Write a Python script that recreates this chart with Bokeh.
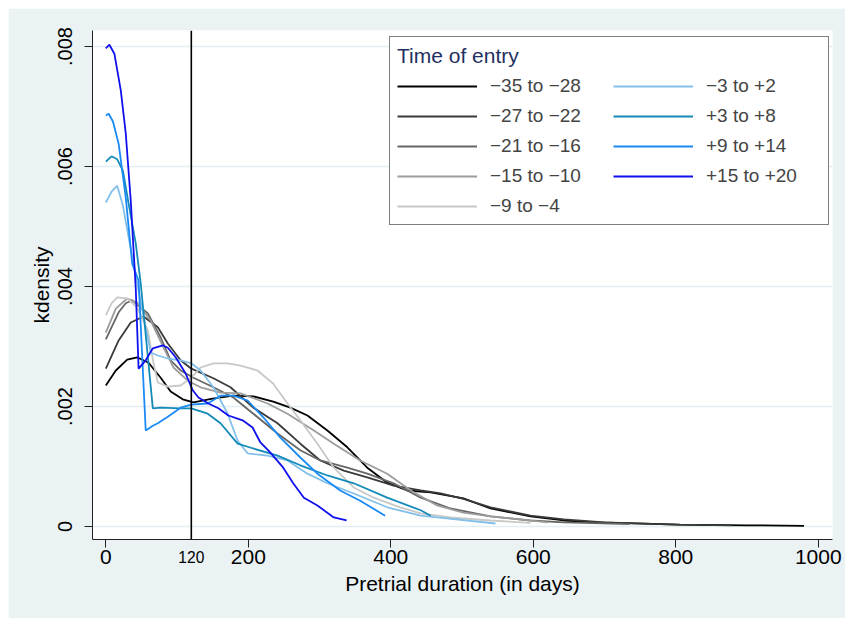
from bokeh.plotting import figure
from bokeh.models import (Range1d, FixedTicker, CustomJSTickFormatter, Span,
                          Legend, LegendItem, LinearAxis)
from bokeh.embed import file_html
from bokeh.resources import INLINE

FONT = "Liberation Sans"

# ---------------- data ----------------
series_labels = ["\u221235 to \u221228", "\u221227 to \u221222", "\u221221 to \u221216",
                 "\u221215 to \u221210", "\u22129 to \u22124", "\u22123 to +2",
                 "+3 to +8", "+9 to +14", "+15 to +20"]
series_colors = ["#000000", "#3a3a3a", "#666666", "#9c9c9c", "#c8c8c8",
                 "#82c0ea", "#148ab8", "#1a8af5", "#1010ee"]

x_m35 = [0, 14, 30, 44, 60, 77, 91, 108, 123, 150, 179, 207, 235, 259, 283, 311, 339,
         367, 395, 423, 456, 502, 540, 596, 643, 690, 806, 900, 980]
y_m35 = [.00235, .0026, .00278, .00282, .00273, .00248, .00225, .00212, .00207, .00213,
         .00218, .00217, .00208, .00198, .00185, .0016, .00132, .00098, .00073, .0006,
         .00057, .00047, .0003, .00017, .0001, .00007, .00003, .00002, .00001]

x_m27 = [0, 18, 35, 53, 73, 87, 105, 120, 151, 175, 207, 241, 273, 301, 334, 367, 404,
         442, 470, 502, 540, 596, 643, 700, 800, 880]
y_m27 = [.00263, .0031, .0034, .0035, .00332, .00305, .00277, .00263, .00247, .00232,
         .00198, .00172, .00138, .0011, .00093, .00082, .00068, .0006, .00055, .00046,
         .00032, .00018, .00012, .00007, .00003, .00002]

x_m21 = [0, 18, 28, 37, 59, 77, 91, 105, 123, 151, 179, 207, 241, 273, 301, 339, 367,
         404, 442, 484, 540, 596, 643, 735]
y_m21 = [.00312, .00357, .00372, .00377, .00355, .00315, .00277, .0026, .00248, .00232,
         .00215, .00188, .00155, .00127, .0011, .00098, .00088, .00072, .00048, .0003,
         .00017, .0001, .00007, .00004]

x_m15 = [0, 14, 30, 44, 63, 81, 95, 115, 133, 161, 189, 227, 255, 292, 320, 357, 395,
         428, 465, 502, 540, 620]
y_m15 = [.00323, .00363, .0038, .00373, .00343, .00298, .00265, .00243, .00232, .00223,
         .00222, .00205, .00188, .0016, .00138, .0011, .00088, .0006, .00035, .00023,
         .00017, .00007]

x_m9 = [0, 8, 16, 30, 44, 59, 67, 73, 87, 105, 120, 133, 151, 171, 189, 213, 235, 255,
        273, 297, 320, 348, 376, 413, 442, 484, 540, 596]
y_m9 = [.00352, .00372, .00382, .0038, .00365, .00327, .00272, .0024, .00233, .00235,
        .00248, .00265, .00272, .00272, .00268, .0026, .00238, .00205, .00177, .00138,
        .00098, .00065, .00048, .00032, .00022, .00015, .0001, .00006]

x_m3 = [0, 8, 16, 24, 32, 39, 46, 54, 63, 73, 87, 105, 120, 133, 151, 171, 185, 199,
        227, 255, 283, 311, 348, 395, 442, 547]
y_m3 = [.0054, .00558, .00568, .00535, .00482, .00438, .00393, .00343, .0029, .00285,
        .0028, .00277, .00272, .0026, .00232, .00188, .00143, .00122, .00118, .0011,
        .00088, .00072, .00055, .00032, .00018, .00005]

x_p3 = [0, 8, 16, 24, 32, 42, 49, 66, 77, 105, 120, 143, 161, 185, 207, 241, 273, 311,
        348, 395, 442, 456]
y_p3 = [.00608, .00617, .00612, .00593, .00538, .00472, .00405, .00197, .00198, .00197,
        .00197, .00188, .00172, .00138, .0013, .00118, .00102, .00085, .00072, .00048,
        .00027, .00018]

x_p9 = [0, 4, 10, 18, 28, 37, 46, 56, 66, 73, 87, 105, 120, 143, 161, 179, 199, 221,
        245, 273, 297, 329, 357, 392]
y_p9 = [.00685, .00688, .00675, .00638, .00548, .00438, .0041, .0016, .00168, .00172,
        .00183, .00198, .00203, .00205, .00218, .00218, .0021, .00182, .00148, .00115,
        .00088, .0006, .00043, .00018]

x_p15 = [0, 5, 12, 21, 28, 35, 42, 46, 56, 66, 80, 87, 98, 112, 122, 130, 144, 158, 172,
         192, 206, 217, 231, 249, 263, 278, 297, 320, 338]
y_p15 = [.00797, .00803, .00788, .00727, .00655, .00543, .00397, .00263, .00277, .00297,
         .00302, .00298, .00282, .00255, .00227, .00215, .00205, .00197, .00185, .00177,
         .00165, .0014, .00123, .00098, .00072, .00048, .00035, .00015, .0001]

series_x = [x_m35, x_m27, x_m21, x_m15, x_m9, x_m3, x_p3, x_p9, x_p15]
series_y = [y_m35, y_m27, y_m21, y_m15, y_m9, y_m3, y_p3, y_p9, y_p15]

x_ticks = [0, 200, 400, 600, 800, 1000]
y_ticks = [0, 0.002, 0.004, 0.006, 0.008]
cutoff_day = 120
x_title = "Pretrial duration (in days)"
y_title = "kdensity"
legend_title = "Time of entry"

# ---------------- figure ----------------
p = figure(width=837, height=610, output_backend="svg", toolbar_location=None,
           x_range=Range1d(-18.7, 1020), y_range=Range1d(-0.000217, 0.008267),
           min_border_left=84, min_border_right=13, min_border_top=22,
           min_border_bottom=79)
p.margin = (8, 0, 0, 8)
p.background_fill_color = "white"
p.border_fill_color = "#EAF2F3"
p.outline_line_color = None

p.xgrid.visible = False
p.ygrid.ticker = FixedTicker(ticks=y_ticks)
p.ygrid.grid_line_color = "#E4EDF0"
p.ygrid.grid_line_width = 1.3


def style_axis(ax):
    ax.axis_line_color = "#222222"
    ax.axis_line_width = 1
    ax.major_tick_line_color = "#222222"
    ax.major_tick_out = 8
    ax.major_tick_in = 0
    ax.minor_tick_out = 0
    ax.minor_tick_in = 0
    ax.major_label_text_font = FONT
    ax.major_label_text_color = "black"
    ax.axis_label_text_font = FONT
    ax.axis_label_text_font_style = "normal"
    ax.axis_label_text_color = "black"


style_axis(p.xaxis[0])
style_axis(p.yaxis[0])

p.xaxis.ticker = FixedTicker(ticks=x_ticks)
p.xaxis.major_label_text_font_size = "21px"
p.xaxis.major_label_standoff = 2

# second (outer) x axis: carries the small cutoff label and the axis title
cut_axis = LinearAxis(ticker=FixedTicker(ticks=[cutoff_day]))
style_axis(cut_axis)
cut_axis.axis_line_color = None
cut_axis.major_tick_line_color = None
cut_axis.major_tick_out = 0
cut_axis.major_label_text_font_size = "15.6px"
cut_axis.major_label_standoff = -16
cut_axis.axis_label = x_title
cut_axis.axis_label_text_font_size = "21px"
cut_axis.axis_label_standoff = 6
p.add_layout(cut_axis, "below")

p.yaxis.ticker = FixedTicker(ticks=y_ticks)
p.yaxis.formatter = CustomJSTickFormatter(
    code='return tick == 0 ? "0" : tick.toFixed(3).replace(/^0/, "");')
p.yaxis.major_label_orientation = "vertical"
p.yaxis.major_label_text_font_size = "20px"
p.yaxis.major_label_standoff = 12
p.yaxis.axis_label = y_title
p.yaxis.axis_label_text_font_size = "21px"
p.yaxis.axis_label_standoff = 3

renderers = []
for xs, ys, c in zip(series_x, series_y, series_colors):
    r = p.line(xs, ys, line_color=c, line_width=1.8)
    renderers.append(r)

p.add_layout(Span(location=cutoff_day, dimension="height", line_color="black",
                  line_width=1.6))

items = [LegendItem(label=lab, renderers=[r]) for lab, r in zip(series_labels, renderers)]
legend = Legend(items=items, location=(297, 314), orientation="vertical", nrows=5,
                title=legend_title, title_text_font=FONT, title_text_font_size="21px",
                title_text_font_style="normal", title_text_color="#1f2f5f",
                title_standoff=7,
                label_text_font=FONT, label_text_font_size="19px",
                glyph_width=80, glyph_height=20, label_standoff=13,
                label_width=115, label_height=20, spacing=8, padding=7, margin=0,
                border_line_color="black", border_line_width=1,
                background_fill_color="white", background_fill_alpha=1)
p.add_layout(legend)

open("out.html", "w").write(file_html(p, INLINE))
